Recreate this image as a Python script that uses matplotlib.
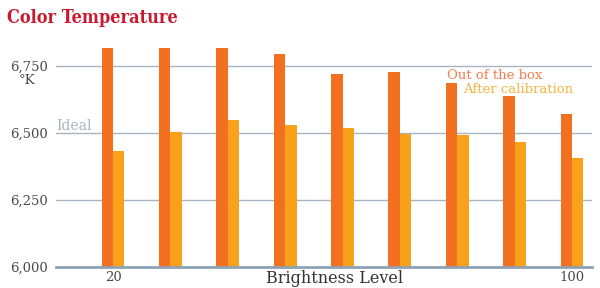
import numpy as np
import matplotlib.pyplot as plt

# brightness levels and measured colour temperature (K)
levels = [20, 30, 40, 50, 60, 70, 80, 90, 100]
out_of_box = [6817, 6816, 6819, 6796, 6720, 6726, 6685, 6638, 6572]
after_cal = [6433, 6502, 6550, 6529, 6517, 6496, 6493, 6465, 6405]
yticks = [6000, 6250, 6500, 6750]
ytick_labels = ['6,000', '6,250', '6,500', '6,750']

orange = '#F37021'
yellow = '#F9A11B'
grid_c = '#A7B4C2'
serif = ['DejaVu Serif']

fig = plt.figure(figsize=(6, 2.88), dpi=100)
ax = fig.add_axes([56 / 600, 21 / 288, 536 / 600, 227.8 / 288])

x = np.arange(len(levels))
w = 0.2
ax.bar(x, out_of_box, width=-w, align='edge', color=orange, zorder=3)
ax.bar(x, after_cal, width=w, align='edge', color=yellow, zorder=3)

ax.set_ylim(6000, 6850)
ax.set_xlim(-0.9935, 8.3486)
ax.set_yticks(yticks)
ax.set_yticklabels(ytick_labels, family=serif, fontsize=9.5, color='#4a4a4a')
ax.set_xticks([0, 8])
ax.set_xticklabels([str(levels[0]), str(levels[-1])], family=serif,
                   fontsize=9.5, color='#4a4a4a')
ax.tick_params(length=0, pad=3)
ax.tick_params(axis='y', pad=6)

for t in yticks[1:]:
    ax.axhline(t, color=grid_c, lw=1, zorder=1)
for s in ['top', 'right', 'left']:
    ax.spines[s].set_visible(False)
ax.spines['bottom'].set_color('#8DA2B6')
ax.spines['bottom'].set_linewidth(2)
ax.spines['bottom'].set_zorder(4)

ax.set_xlabel('Brightness Level', family=serif, fontsize=11.5,
              color='#333333', labelpad=-10)
ax.xaxis.label.set_x(0.519)

fig.text(7 / 600, 1 - 18 / 288, 'Color Temperature', family=serif,
         fontsize=13, fontweight='bold', fontstretch='condensed',
         color='#C8192E', va='center')
fig.text(19 / 600, 1 - 81 / 288, '°K', family=serif, fontsize=9.5,
         color='#4a4a4a', va='center')
ax.text(-0.99, 6500, 'Ideal', family=serif, fontsize=10, color='#A9B4BE',
        va='bottom', ha='left')
ax.text(5.83, 6692, 'Out of the box', family=serif, fontsize=9.5,
        color='#EE8050', va='bottom', ha='left')
ax.text(6.1, 6638, 'After calibration', family=serif, fontsize=9.5,
        color='#F5B547', va='bottom', ha='left')

fig.savefig('out.png', dpi=100)
